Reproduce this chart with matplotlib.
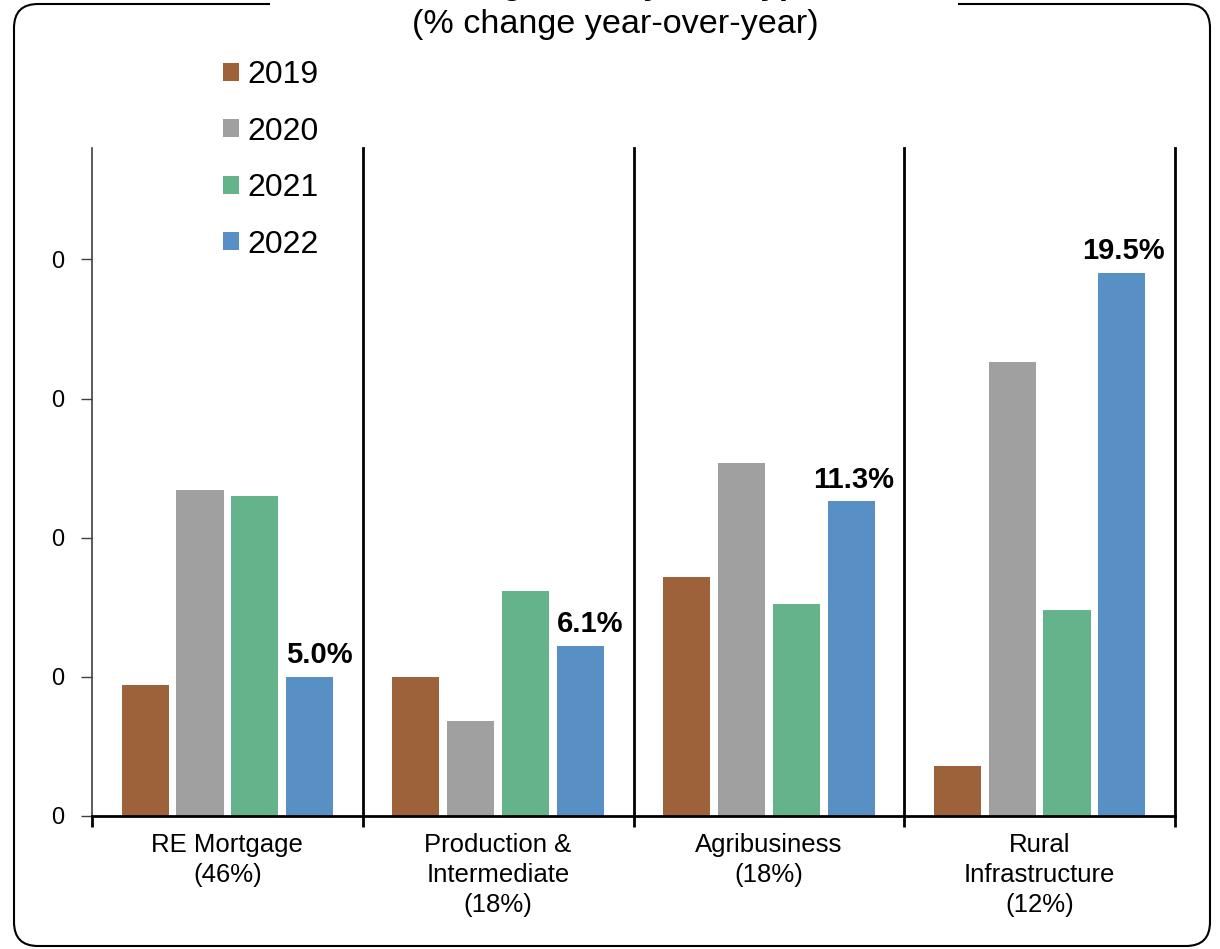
import matplotlib
matplotlib.use("Agg")
import matplotlib.pyplot as plt
from matplotlib.patches import FancyBboxPatch, Rectangle, Patch
import numpy as np

plt.rcParams['font.family'] = ['Liberation Sans', 'DejaVu Sans']

categories = ["RE Mortgage\n(46%)", "Production &\nIntermediate\n(18%)", "Agribusiness\n(18%)", "Rural\nInfrastructure\n(12%)"]
years = ["2019", "2020", "2021", "2022"]
values = {
    "2019": [4.7, 5.0, 8.6, 1.8],
    "2020": [11.7, 3.4, 12.7, 16.3],
    "2021": [11.5, 8.1, 7.6, 7.4],
    "2022": [5.0, 6.1, 11.3, 19.5],
}
labels_2022 = ["5.0%", "6.1%", "11.3%", "19.5%"]
yticks = [0, 5, 10, 15, 20]
colors = {"2019": "#9E623B", "2020": "#A0A0A0", "2021": "#65B38A", "2022": "#5890C6"}
title = "Loan growth by loan type"
subtitle = "(% change year-over-year)"

W, H = 1220, 949
fig = plt.figure(figsize=(W / 100, H / 100), dpi=100)
ax = fig.add_axes([92 / W, 1 - 816 / H, (1175 - 92) / W, (816 - 148) / H])

x = np.arange(len(categories))
step = 0.2026
width = 0.174
bars = {}
for i, yr in enumerate(years):
    bars[yr] = ax.bar(x + (i - 1.5) * step, values[yr], width, color=colors[yr], label=yr, zorder=2)

for rect, lab in zip(bars["2022"], labels_2022):
    ax.annotate(lab, (rect.get_x() + rect.get_width(), rect.get_height()),
                xytext=(14, 10), textcoords="offset points", ha="right", va="baseline",
                fontsize=21, fontweight="bold")

ax.set_xlim(-0.5, 3.5)
ax.set_ylim(0, 24)
ax.set_yticks(yticks)
ax.set_yticklabels(["0" for _ in yticks], fontsize=17)
ax.tick_params(axis="y", direction="out", length=8, width=1, pad=12, colors="#404040", labelcolor="black")

seps = [-0.5, 0.5, 1.5, 2.5, 3.5]
ax.set_xticks(seps)
ax.set_xticklabels([])
ax.tick_params(axis="x", which="major", direction="out", length=8, width=2)
ax.set_xticks(x, minor=True)
ax.set_xticklabels(categories, minor=True, fontsize=18.5, linespacing=1.32)
ax.tick_params(axis="x", which="minor", length=0, pad=12)

for s in seps[1:]:
    ax.axvline(s, color="black", lw=2, zorder=3, clip_on=False)
ax.spines["top"].set_visible(False)
ax.spines["right"].set_visible(False)
ax.spines["left"].set_linewidth(1.2)
ax.spines["left"].set_color("#404040")
ax.spines["bottom"].set_linewidth(2)

handles = [Patch(facecolor=colors[y]) for y in years]
fig.legend(handles, years, loc="upper left", bbox_to_anchor=(223 / W, 1 - 60 / H),
           frameon=False, fontsize=23, handlelength=0.5, handleheight=0.5,
           handletextpad=0.25, labelspacing=0.83, borderpad=0, borderaxespad=0)

# rounded border
border = FancyBboxPatch((14, 3), 1196, 942, boxstyle="round,pad=0,rounding_size=24",
                        transform=None, facecolor="none", edgecolor="black", lw=1.5)
fig.add_artist(border)
cover = Rectangle((270, H - 14), 688, 16, transform=None, facecolor="white", edgecolor="none")
fig.add_artist(cover)

fig.text(0.504, 1 + 6 / H, title, ha="center", va="baseline", fontsize=24, fontweight="bold")
fig.text(0.504, 1 - 33 / H, subtitle, ha="center", va="baseline", fontsize=24.6)

fig.savefig("out.png", dpi=100)
